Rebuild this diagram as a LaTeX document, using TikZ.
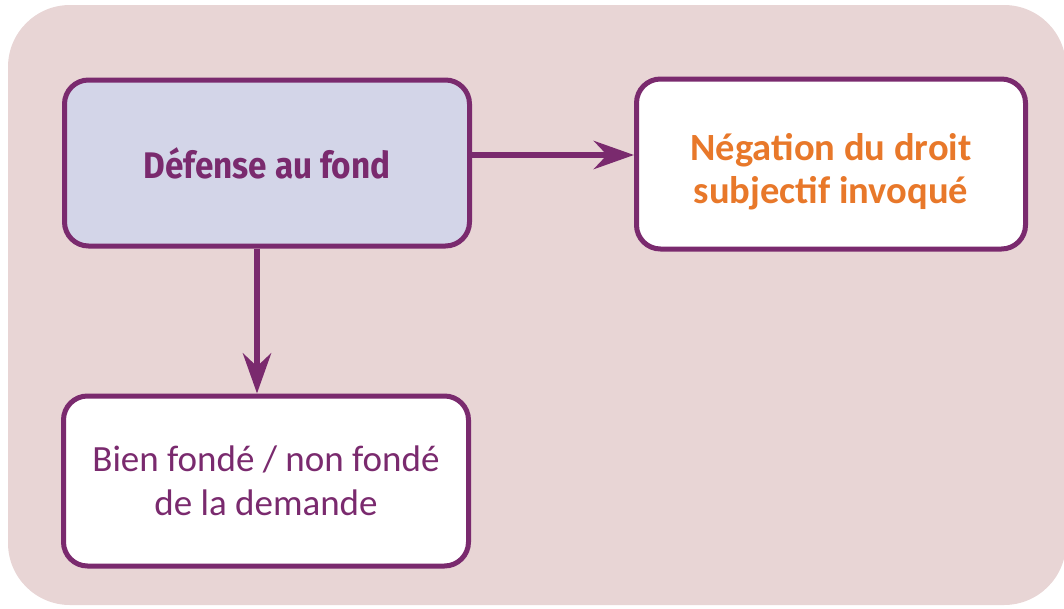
\documentclass[tikz,border=0pt]{standalone}
\usepackage{fontspec}
\setmainfont{Carlito}
\newfontfamily\headfont[FakeStretch=0.9]{Fira Sans}
\usetikzlibrary{arrows.meta}
\definecolor{plum}{HTML}{7A2A6E}
\definecolor{panel}{HTML}{E8D5D5}
\definecolor{lilac}{HTML}{D3D5E8}
\definecolor{tangerine}{HTML}{E8782A}
\tikzset{
  card/.style={draw=plum, line width=5pt, rounded corners=24pt, fill=white,
    minimum width=405pt, minimum height=166pt, align=center, inner sep=0pt},
  link/.style={draw=plum, line width=6.5pt,
    -{Stealth[length=40pt,width=28pt,inset=13pt]}},
}
\begin{document}
\begin{tikzpicture}[x=1pt,y=-1pt]
  \useasboundingbox (0,0) rectangle (1064,608);
  % backdrop panel
  \fill[panel, rounded corners=62pt] (8,5) rectangle (1066,605);
  % the three boxes
  \node[card, fill=lilac, text=plum, font=\headfont\bfseries\fontsize{37}{43}\selectfont]
    (def) at (267,163) {Défense au fond};
  \node[card, minimum width=389pt, minimum height=170pt] (neg) at (831,164) {};
  \node[text=tangerine, font=\bfseries\fontsize{38.5}{43}\selectfont, align=center,
        inner sep=0pt] (negtext) at ([yshift=-8pt]neg.center)
    {Négation du droit\\subjectif invoqué};
  \node[card, text=plum, font=\fontsize{37}{44}\selectfont, minimum height=170pt]
    (bien) at (266,481) {Bien fondé / non fondé\\de la demande};
  % connectors
  \draw[link] (def.east |- 0,155) -- (neg.west |- 0,155);
  \draw[link] (def.south -| 257,0) -- (bien.north -| 257,0);
\end{tikzpicture}
\end{document}
